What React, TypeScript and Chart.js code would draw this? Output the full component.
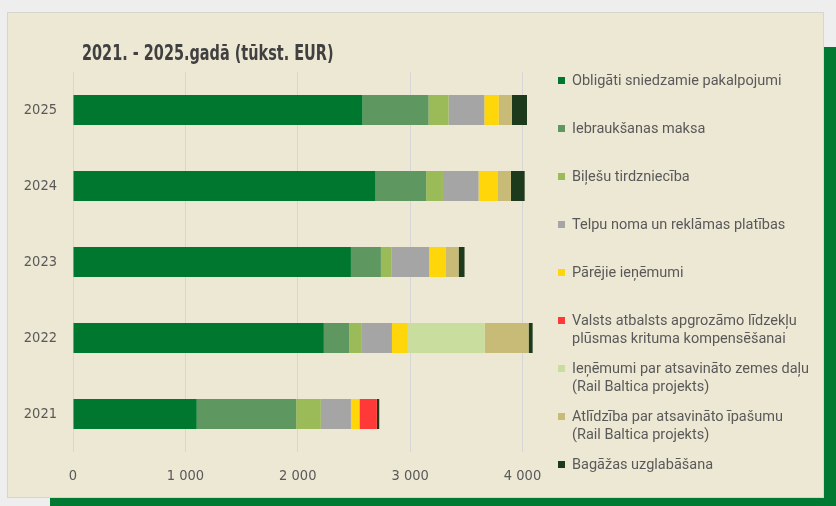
import React, { useEffect, useRef } from "react";
import { Chart, registerables } from "chart.js";

Chart.register(...registerables);

const TITLE = "2021. - 2025.gadā (tūkst. EUR)";
const years = ["2025", "2024", "2023", "2022", "2021"];

const seriesNames = [
  "Obligāti sniedzamie pakalpojumi",
  "Iebraukšanas maksa",
  "Biļešu tirdzniecība",
  "Telpu noma un reklāmas platības",
  "Pārējie ieņēmumi",
  "Valsts atbalsts apgrozāmo līdzekļu plūsmas krituma kompensēšanai",
  "Ieņēmumi par atsavināto zemes daļu (Rail Baltica projekts)",
  "Atlīdzība par atsavināto īpašumu (Rail Baltica projekts)",
  "Bagāžas uzglabāšana",
];

const legendLines = [
  ["Obligāti sniedzamie pakalpojumi"],
  ["Iebraukšanas maksa"],
  ["Biļešu tirdzniecība"],
  ["Telpu noma un reklāmas platības"],
  ["Pārējie ieņēmumi"],
  ["Valsts atbalsts apgrozāmo līdzekļu", "plūsmas krituma kompensēšanai"],
  ["Ieņēmumi par atsavināto zemes daļu", "(Rail Baltica projekts)"],
  ["Atlīdzība par atsavināto īpašumu", "(Rail Baltica projekts)"],
  ["Bagāžas uzglabāšana"],
];

const colors = [
  "#00772f",
  "#5e9860",
  "#9bbb59",
  "#a5a5a5",
  "#ffd60a",
  "#ff3838",
  "#c9dd9e",
  "#c8bb78",
  "#1d3b1c",
];

// values in order 2025, 2024, 2023, 2022, 2021
const obligati = [2576, 2692, 2473, 2232, 1101];
const iebrauksana = [588, 451, 267, 226, 885];
const biletes = [178, 149, 92, 106, 219];
const telpuNoma = [318, 317, 338, 274, 268];
const parejie = [128, 173, 149, 142, 76];
const valstsAtbalsts = [null, null, null, null, 155];
const zemesDala = [null, null, null, 683, null];
const atlidziba = [118, 115, 112, 391, null];
const bagazas = [134, 122, 53, 36, 21];

const seriesValues = [
  obligati,
  iebrauksana,
  biletes,
  telpuNoma,
  parejie,
  valstsAtbalsts,
  zemesDala,
  atlidziba,
  bagazas,
];

const xTicks = [0, 1000, 2000, 3000, 4000];
const xMax = 4200;

const fmt = (v: number) => (v >= 1000 ? String(v).replace(/(\d)(\d{3})$/, "$1 $2") : String(v));

const tickFont = { family: "'DejaVu Sans Condensed', 'DejaVu Sans', sans-serif", size: 14.5 };

export default function App() {
  const ref = useRef<HTMLCanvasElement | null>(null);

  useEffect(() => {
    if (!ref.current) return;
    const chart = new Chart(ref.current, {
      type: "bar",
      data: {
        labels: years,
        datasets: seriesNames.map((name, i) => ({
          label: name,
          data: seriesValues[i] as any,
          backgroundColor: colors[i],
          borderWidth: 0,
          barPercentage: 0.395,
          categoryPercentage: 1,
        })),
      },
      options: {
        indexAxis: "y",
        responsive: false,
        animation: false,
        layout: { padding: { top: 72, right: 291, bottom: 14, left: 0 } },
        plugins: {
          legend: { display: false },
          title: { display: false },
          tooltip: { enabled: false },
        },
        scales: {
          x: {
            stacked: true,
            min: 0,
            max: xMax,
            afterBuildTicks: (scale: any) => {
              scale.ticks = xTicks.map((v) => ({ value: v }));
            },
            afterFit: (scale: any) => {
              scale.height = 40;
            },
            grid: { color: "#d6d6d6", lineWidth: 1, drawTicks: false },
            border: { display: false },
            ticks: {
              padding: 16,
              color: "#595959",
              font: tickFont,
              callback: (v: any) => fmt(Number(v)),
              maxRotation: 0,
            },
          },
          y: {
            stacked: true,
            afterFit: (scale: any) => {
              scale.width = 73;
            },
            grid: { display: false, drawTicks: false },
            border: { display: false },
            ticks: {
              padding: 16,
              color: "#595959",
              font: tickFont,
            },
          },
        },
      },
    });
    return () => chart.destroy();
  }, []);

  return (
    <div
      style={{
        position: "fixed",
        left: 0,
        top: 0,
        width: 836,
        height: 506,
        background: "#eeeeee",
        overflow: "hidden",
      }}
    >
      <div style={{ position: "absolute", left: 50, top: 47, right: 0, bottom: 0, background: "#007a33" }} />
      <div
        style={{
          position: "absolute",
          left: 7,
          top: 12,
          width: 815,
          height: 484,
          background: "#ede8d4",
          border: "1px solid #d6d6d0",
        }}
      />
      <canvas ref={ref} width={836} height={506} style={{ position: "absolute", left: 0, top: 0, width: 836, height: 506 }} />
      <div
        style={{
          position: "absolute",
          left: 82,
          top: 43,
          fontFamily: "'DejaVu Sans Condensed', 'DejaVu Sans', sans-serif",
          fontWeight: "bold",
          fontSize: 21,
          lineHeight: "21px",
          color: "#404040",
          whiteSpace: "nowrap",
          transformOrigin: "0 0",
          transform: "scaleX(0.765)",
        }}
      >
        {TITLE}
      </div>
      {legendLines.map((lines, i) => (
        <div
          key={i}
          style={{
            position: "absolute",
            left: 558,
            top: 71.7 + i * 48,
            fontFamily: "Roboto, sans-serif",
            fontSize: 14.5,
            lineHeight: "18.3px",
            color: "#595959",
            whiteSpace: "nowrap",
          }}
        >
          <span
            style={{
              position: "absolute",
              left: 0,
              top: 5.5,
              width: 7,
              height: 7,
              background: colors[i],
            }}
          />
          <div style={{ marginLeft: 14 }}>
            {lines.map((l, j) => (
              <div key={j}>{l}</div>
            ))}
          </div>
        </div>
      ))}
    </div>
  );
}
